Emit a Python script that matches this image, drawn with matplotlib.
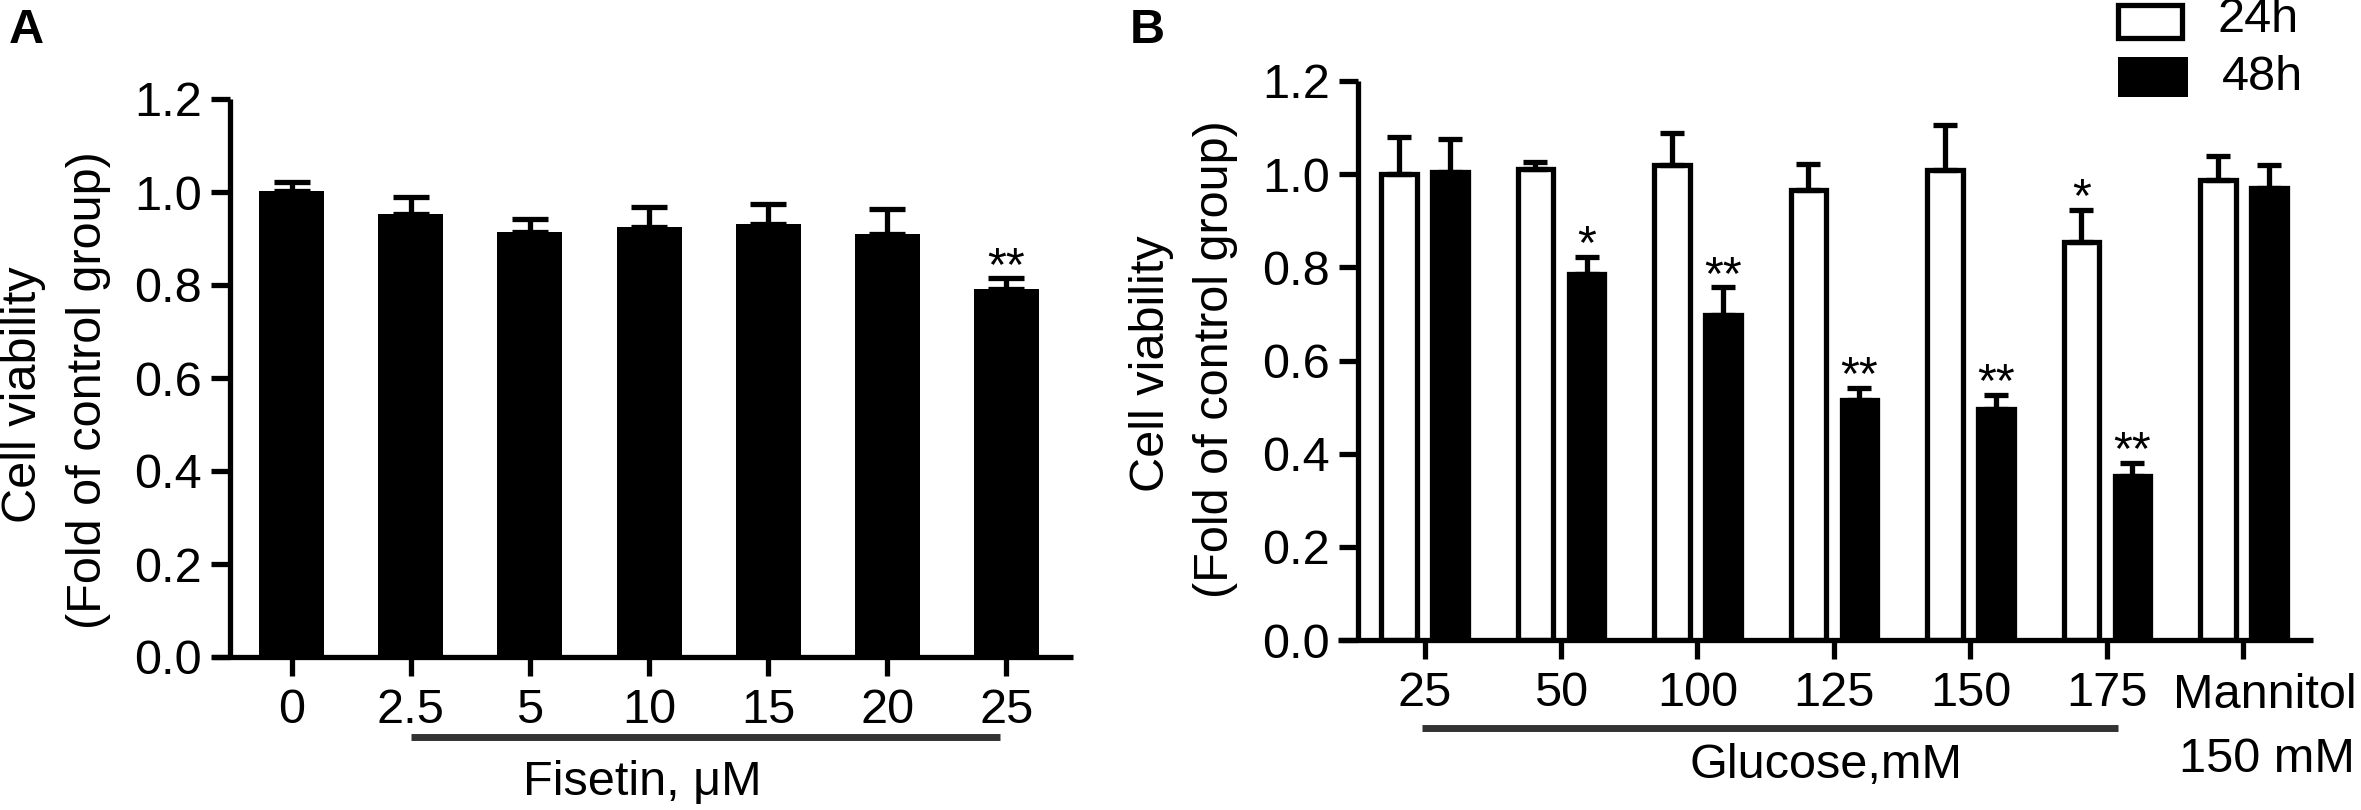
"""
Cell viability bar charts: (A) fisetin dose series, (B) glucose / mannitol at 24h and 48h.
Saves out.png (2361x810).
"""

import numpy as np
import matplotlib

matplotlib.use("Agg")
import matplotlib.pyplot as plt
from matplotlib.patches import Rectangle
from matplotlib.transforms import blended_transform_factory

# --- Panel A: fisetin ---
FISETIN_LABELS = ["0", "2.5", "5", "10", "15", "20", "25"]
FISETIN_MEAN = [1.003, 0.952, 0.914, 0.924, 0.932, 0.909, 0.792]
FISETIN_ERR = [0.018, 0.037, 0.028, 0.043, 0.043, 0.054, 0.022]
FISETIN_STARS = ["", "", "", "", "", "", "**"]

# --- Panel B: glucose, mannitol ---
GLUCOSE_LABELS = ["25", "50", "100", "125", "150", "175", ""]
MEAN_24H = [1.001, 1.012, 1.020, 0.966, 1.010, 0.855, 0.988]
ERR_24H = [0.078, 0.015, 0.068, 0.056, 0.096, 0.068, 0.050]
STARS_24H = ["", "", "", "", "", "*", ""]
MEAN_48H = [1.005, 0.785, 0.698, 0.516, 0.495, 0.352, 0.970]
ERR_48H = [0.070, 0.037, 0.059, 0.025, 0.031, 0.028, 0.050]
STARS_48H = ["", "*", "**", "**", "**", "**", ""]

Y_TICKS = [0.0, 0.2, 0.4, 0.6, 0.8, 1.0, 1.2]

W, H = 2361, 810
FS = 35
LW = 3.8
plt.rcParams["font.family"] = ["Liberation Sans", "DejaVu Sans"]


def fx(px):
    return px / W


def fy(py):
    # pixel row (from top) -> figure fraction
    return 1 - py / H


def style_axis(ax, spine_x, tick_labels):
    ax.set_ylim(0, 1.2)
    ax.set_yticks(Y_TICKS)
    ax.set_yticklabels([f"{t:.1f}" for t in Y_TICKS])
    ax.set_xticks(range(len(tick_labels)))
    ax.set_xticklabels(tick_labels)
    for side in ("top", "right"):
        ax.spines[side].set_visible(False)
    ax.spines["left"].set_position(("data", spine_x))
    ax.spines["left"].set_bounds(0, 1.2)
    for side in ("left", "bottom"):
        ax.spines[side].set_linewidth(LW)
        ax.spines[side].set_capstyle("butt")
    ax.tick_params(axis="both", width=LW, length=14, labelsize=FS, direction="out")
    ax.tick_params(axis="y", pad=6)
    ax.tick_params(axis="x", pad=8)
    ax.patch.set_visible(False)


def add_stars(ax, xs, tops, stars):
    for x, top, s in zip(xs, tops, stars):
        if s:
            ax.annotate(s, xy=(x, top), xytext=(0, -1), textcoords="offset points",
                        ha="center", va="baseline", fontsize=FS, annotation_clip=False)


fig = plt.figure(figsize=(W / 100, H / 100), dpi=100)

# ---------- Panel A ----------
ax_a = fig.add_axes([fx(212), fy(657), fx(1073 - 212), (657 - 99) / H])
xa = np.arange(len(FISETIN_MEAN))
ax_a.bar(xa, FISETIN_MEAN, width=0.546, color="black", zorder=2)
ax_a.errorbar(xa, FISETIN_MEAN, yerr=[np.zeros(len(xa)), FISETIN_ERR], fmt="none",
              ecolor="black", elinewidth=LW, capsize=13, capthick=LW, zorder=3)
ax_a.set_xlim(-0.67, 6.56)
style_axis(ax_a, -0.52, FISETIN_LABELS)
add_stars(ax_a, xa, np.array(FISETIN_MEAN) + np.array(FISETIN_ERR), FISETIN_STARS)

tr_a = blended_transform_factory(ax_a.transData, ax_a.transAxes)
ax_a.plot([1, 5.95], [-0.143, -0.143], transform=tr_a, color="#333333", lw=5,
          solid_capstyle="butt", clip_on=False)
ax_a.text(0.5, -0.247, "Fisetin, μM", transform=ax_a.transAxes, ha="center",
          va="baseline", fontsize=FS)

fig.text(fx(24), fy(395), "Cell viability", rotation=90, ha="center", va="center", fontsize=FS)
fig.text(fx(89), fy(390), "(Fold of control group)", rotation=90, ha="center", va="center",
         fontsize=FS)
fig.text(fx(9), fy(8), "A", ha="left", va="top", fontsize=FS, fontweight="bold")

# ---------- Panel B ----------
ax_b = fig.add_axes([fx(1338), fy(640), fx(2313 - 1338), (640 - 81) / H])
xb = np.arange(len(MEAN_24H))
off, bw = 0.187, 0.26
ax_b.bar(xb - off, MEAN_24H, width=bw, color="white", edgecolor="black", linewidth=LW, zorder=2)
ax_b.bar(xb + off, MEAN_48H, width=bw, color="black", edgecolor="black", linewidth=LW, zorder=2)
ax_b.errorbar(xb - off, MEAN_24H, yerr=[np.zeros(len(xb)), ERR_24H], fmt="none",
              ecolor="black", elinewidth=LW, capsize=8.5, capthick=LW, zorder=3)
ax_b.errorbar(xb + off, MEAN_48H, yerr=[np.zeros(len(xb)), ERR_48H], fmt="none",
              ecolor="black", elinewidth=LW, capsize=8.5, capthick=LW, zorder=3)
ax_b.set_xlim(-0.634, 6.51)
style_axis(ax_b, -0.49, GLUCOSE_LABELS)
add_stars(ax_b, xb - off, np.array(MEAN_24H) + np.array(ERR_24H), STARS_24H)
add_stars(ax_b, xb + off, np.array(MEAN_48H) + np.array(ERR_48H), STARS_48H)

tr_b = blended_transform_factory(ax_b.transData, ax_b.transAxes)
ax_b.plot([-0.02, 5.08], [-0.157, -0.157], transform=tr_b, color="#333333", lw=5,
          solid_capstyle="butt", clip_on=False)
ax_b.text(0.5, -0.247, "Glucose,mM", transform=ax_b.transAxes, ha="center",
          va="baseline", fontsize=FS)
# mannitol label sits right of its tick and runs to the figure edge
ax_b.text(6.16, -0.1216, "Mannitol", transform=tr_b, ha="center", va="baseline", fontsize=FS)
ax_b.text(6.17, -0.236, "150 mM", transform=tr_b, ha="center", va="baseline", fontsize=FS)

fig.text(fx(1151), fy(364), "Cell viability", rotation=90, ha="center", va="center", fontsize=FS)
fig.text(fx(1216), fy(359), "(Fold of control group)", rotation=90, ha="center", va="center",
         fontsize=FS)
fig.text(fx(1130), fy(8), "B", ha="left", va="top", fontsize=FS, fontweight="bold")

# legend drawn by hand, top right
fig.add_artist(Rectangle((fx(2118), fy(38)), fx(64), 33 / H, transform=fig.transFigure,
                         facecolor="white", edgecolor="black", linewidth=LW))
fig.add_artist(Rectangle((fx(2118), fy(97)), fx(70), 40 / H, transform=fig.transFigure,
                         facecolor="black", edgecolor="none"))
fig.text(fx(2218), fy(20), "24h", ha="left", va="center", fontsize=FS)
fig.text(fx(2222), fy(77), "48h", ha="left", va="center", fontsize=FS)

fig.savefig("out.png", dpi=100)
